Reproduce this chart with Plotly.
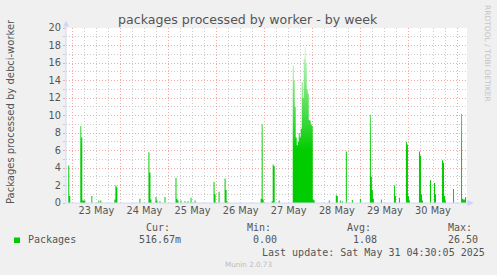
import plotly.graph_objects as go

# ---------------- data (30-minute averages) ----------------
times = [
    "2025-05-22 20:30",
    "2025-05-22 22:00", "2025-05-22 22:30", "2025-05-22 23:00",
    "2025-05-23 04:00", "2025-05-23 04:30", "2025-05-23 05:00", "2025-05-23 05:30", "2025-05-23 06:00", "2025-05-23 06:30",
    "2025-05-23 09:30", "2025-05-23 10:00",
    "2025-05-23 13:00", "2025-05-23 13:30", "2025-05-23 14:00", "2025-05-23 14:30",
    "2025-05-23 21:00", "2025-05-23 21:30", "2025-05-23 22:00", "2025-05-23 22:30",
    "2025-05-24 09:30", "2025-05-24 10:00",
    "2025-05-24 14:00", "2025-05-24 14:30", "2025-05-24 15:00", "2025-05-24 15:30",
    "2025-05-24 17:30", "2025-05-24 18:00", "2025-05-24 18:30",
    "2025-05-24 19:30", "2025-05-24 20:00",
    "2025-05-24 22:00", "2025-05-24 22:30",
    "2025-05-25 03:30", "2025-05-25 04:00", "2025-05-25 04:30", "2025-05-25 05:00",
    "2025-05-25 06:00", "2025-05-25 06:30",
    "2025-05-25 08:00", "2025-05-25 08:30", "2025-05-25 09:30", "2025-05-25 10:00",
    "2025-05-25 11:00", "2025-05-25 11:30",
    "2025-05-25 13:00", "2025-05-25 13:30",
    "2025-05-25 22:30", "2025-05-25 23:00", "2025-05-25 23:30",
    "2025-05-26 01:00", "2025-05-26 01:30",
    "2025-05-26 04:00", "2025-05-26 04:30", "2025-05-26 05:00", "2025-05-26 05:30",
    "2025-05-26 22:00", "2025-05-26 22:30", "2025-05-26 23:00", "2025-05-26 23:30",
    "2025-05-27 03:30", "2025-05-27 04:00", "2025-05-27 04:30", "2025-05-27 05:00",
    "2025-05-27 07:00", "2025-05-27 07:30",
    "2025-05-27 14:00", "2025-05-27 14:30", "2025-05-27 15:00", "2025-05-27 15:30",
    "2025-05-27 16:00", "2025-05-27 16:30", "2025-05-27 17:00", "2025-05-27 17:30",
    "2025-05-27 18:00", "2025-05-27 18:30", "2025-05-27 19:00", "2025-05-27 19:30",
    "2025-05-27 20:00", "2025-05-27 20:30", "2025-05-27 21:00", "2025-05-27 21:30",
    "2025-05-27 22:00", "2025-05-27 22:30", "2025-05-27 23:00", "2025-05-27 23:30",
    "2025-05-28 00:00", "2025-05-28 00:30", "2025-05-28 01:00",
    "2025-05-28 08:00", "2025-05-28 08:30",
    "2025-05-28 11:30", "2025-05-28 12:00", "2025-05-28 12:30",
    "2025-05-28 13:30", "2025-05-28 14:00", "2025-05-28 14:30", "2025-05-28 15:00",
    "2025-05-28 16:30", "2025-05-28 17:00",
    "2025-05-28 19:30", "2025-05-28 20:00",
    "2025-05-28 23:30", "2025-05-29 00:00",
    "2025-05-29 04:30", "2025-05-29 05:00", "2025-05-29 05:30", "2025-05-29 06:00", "2025-05-29 06:30",
    "2025-05-29 10:00", "2025-05-29 10:30",
    "2025-05-29 16:30", "2025-05-29 17:00", "2025-05-29 17:30",
    "2025-05-29 19:00", "2025-05-29 19:30",
    "2025-05-29 22:30", "2025-05-29 23:00", "2025-05-29 23:30", "2025-05-30 00:00", "2025-05-30 00:30",
    "2025-05-30 05:00", "2025-05-30 05:30", "2025-05-30 06:00", "2025-05-30 06:30", "2025-05-30 07:00",
    "2025-05-30 10:30", "2025-05-30 11:00",
    "2025-05-30 12:30", "2025-05-30 13:00", "2025-05-30 13:30",
    "2025-05-30 16:30", "2025-05-30 17:00", "2025-05-30 17:30", "2025-05-30 18:00", "2025-05-30 18:30",
    "2025-05-30 22:00", "2025-05-30 22:30",
    "2025-05-31 02:00", "2025-05-31 02:30", "2025-05-31 03:00", "2025-05-31 03:30", "2025-05-31 04:00", "2025-05-31 04:30",
]
packages = [
    0,
    4.3, 0.8, 0,
    8.8, 7.5, 0.3, 0.3, 0.3, 0,
    0.8, 0,
    0.3, 0, 0.3, 0,
    0.4, 2.0, 1.8, 0,
    0.5, 0,
    5.8, 3.5, 0.4, 0,
    0.7, 0.3, 0,
    0.2, 0,
    0.7, 0,
    2.9, 0.5, 0.3, 0,
    0.3, 0,
    0.2, 0, 0.2, 0,
    0.6, 0,
    0.3, 0,
    2.4, 1.0, 0,
    1.3, 0,
    2.8, 1.5, 0.2, 0,
    0.5, 9.0, 0.4, 0,
    0.2, 4.4, 4.2, 0,
    0.3, 0,
    15.7, 14.0, 11.0, 7.5,
    6.6, 7.0, 8.0, 7.5,
    8.5, 13.8, 12.0, 16.5,
    17.8, 16.0, 13.0, 12.5,
    9.5, 9.4, 9.0, 8.8,
    0.4, 0.3, 0,
    0.3, 0,
    0.9, 0.8, 0,
    0.3, 0, 0.2, 0,
    5.9, 0,
    0.35, 0,
    0.5, 0,
    10.1, 3.0, 1.5, 0.5, 0,
    0.4, 0,
    2.0, 0.8, 0,
    0.6, 0,
    7.0, 6.7, 0.8, 0.3, 0,
    5.9, 5.4, 1.0, 0.3, 0,
    2.6, 0,
    2.3, 1.0, 0,
    4.9, 4.6, 0.8, 0.3, 0,
    1.6, 0,
    10.2, 0.5, 0.4, 0.4, 0.7, 0.52,
]

day_midnights = ["2025-05-%02d" % d for d in range(23, 32)]
label_times = ["2025-05-%02d 12:00" % d for d in range(23, 31)]
day_labels = ["%d May" % d for d in range(23, 31)]
x_range = ["2025-05-22 20:52", "2025-05-31 04:58"]

legend_name = "Packages"
cur_txt, min_txt, avg_txt, max_txt = "516.67m", "0.00", "1.08", "26.50"
last_update = "Last update: Sat May 31 04:30:05 2025"

# ---------------- layout helpers ----------------
W, H = 497, 275
L, R, T, B = 66, 467, 28, 203


def px(x):
    return (x - L) / (R - L)


def py(y):
    return (B - y) / (B - T)


GREEN = "#00CC00"
AXIS = "#CFD6F8"
FONT = "DejaVu Sans"
MONO = "DejaVu Sans Mono"
TXT = "#555555"

fig = go.Figure()
fig.add_trace(go.Scatter(
    x=times, y=packages, mode="lines",
    line=dict(width=0, shape="hv", color=GREEN),
    fill="tozeroy", fillcolor=GREEN,
    fillgradient=dict(type="vertical", start=0, stop=20,
                      colorscale=[[0, GREEN], [0.3, GREEN], [1, "#F2FFF2"]]),
    hoverinfo="skip", showlegend=False,
))
fig.add_trace(go.Scatter(
    x=[label_times[0]], y=[None], xaxis="x2", yaxis="y",
    mode="markers", hoverinfo="skip", showlegend=False,
))

fig.update_layout(
    width=W, height=H,
    margin=dict(l=L, r=W - R, t=T, b=H - B, pad=0),
    paper_bgcolor="#F0F0F0", plot_bgcolor="#FFFFFF",
    font=dict(family=FONT, size=10, color=TXT),
    showlegend=False,
    xaxis=dict(
        type="date", range=x_range, tickvals=day_midnights,
        showticklabels=False, ticks="", showline=False, zeroline=False,
        showgrid=True, gridcolor="#F0A8A8", gridwidth=1, griddash="1px,2px",
        minor=dict(dtick=6 * 3600 * 1000, tick0="2025-05-23", showgrid=True,
                   gridcolor="#CCCCCC", gridwidth=1, griddash="1px,2px", ticks=""),
    ),
    xaxis2=dict(
        type="date", range=x_range, overlaying="x", anchor="y", side="bottom",
        tickvals=label_times, ticktext=day_labels, showgrid=False, zeroline=False,
        showline=False, ticks="", tickfont=dict(family=FONT, size=9.8, color=TXT),
    ),
    yaxis=dict(
        range=[0, 20], tick0=0, dtick=2, zeroline=False, showline=False,
        showgrid=True, gridcolor="#F0A8A8", gridwidth=1, griddash="1px,2px",
        ticks="outside", ticklen=2, tickcolor="#F0A8A8",
        tickfont=dict(family=FONT, size=9.8, color=TXT),
        minor=dict(dtick=1, showgrid=True, gridcolor="#CCCCCC", gridwidth=1,
                   griddash="1px,2px", ticks="outside", ticklen=2, tickcolor="#CCCCCC"),
    ),
)

shapes = [
    # axes
    dict(type="line", xref="paper", yref="paper", x0=px(66), x1=px(66), y0=py(203), y1=py(24),
         line=dict(color=AXIS, width=1)),
    dict(type="line", xref="paper", yref="paper", x0=px(66), x1=px(470), y0=py(203), y1=py(203),
         line=dict(color=AXIS, width=1)),
    dict(type="path", xref="paper", yref="paper",
         path="M %f,%f L %f,%f L %f,%f Z" % (px(63), py(26.5), px(69), py(26.5), px(66), py(20.5)),
         fillcolor=AXIS, line=dict(width=0)),
    dict(type="path", xref="paper", yref="paper",
         path="M %f,%f L %f,%f L %f,%f Z" % (px(467.5), py(200), px(467.5), py(206), px(474), py(203)),
         fillcolor=AXIS, line=dict(width=0)),
    # legend swatch
    dict(type="rect", xref="paper", yref="paper", x0=px(14), x1=px(20), y0=py(237.5), y1=py(243),
         fillcolor=GREEN, line=dict(width=0)),
]
fig.update_layout(shapes=shapes)


def ann(text, x, y, size, family=MONO, color=TXT, xanchor="left", angle=0):
    return dict(text=text, x=px(x), y=py(y), xref="paper", yref="paper",
                xanchor=xanchor, yanchor="middle", showarrow=False, textangle=angle,
                font=dict(family=family, size=size, color=color), borderpad=0)


annotations = [
    ann("packages processed by worker - by week", 248, 19.5, 12.6, family=FONT, xanchor="center"),
    ann("Packages processed by debci-worker", 10, 112, 10, family=FONT, xanchor="center", angle=-90),
    ann("RRDTOOL / TOBI OETIKER", 488, 53, 7.5, family=FONT, color="#C4C4C4", xanchor="center", angle=90),
    ann("Cur:", 145, 227.5, 10),
    ann("Min:", 246, 227.5, 10),
    ann("Avg:", 346, 227.5, 10),
    ann("Max:", 447, 227.5, 10),
    ann(legend_name, 26.5, 239.5, 10),
    ann(cur_txt, 138, 239.5, 10),
    ann(min_txt, 252, 239.5, 10),
    ann(avg_txt, 352, 239.5, 10),
    ann(max_txt, 447, 239.5, 10),
    ann(last_update, 261, 252, 10),
    ann("Munin 2.0.73", 248, 264, 7.2, family=FONT, color="#BBBBBB", xanchor="center"),
]
fig.update_layout(annotations=annotations)

fig.write_html("out.html")
